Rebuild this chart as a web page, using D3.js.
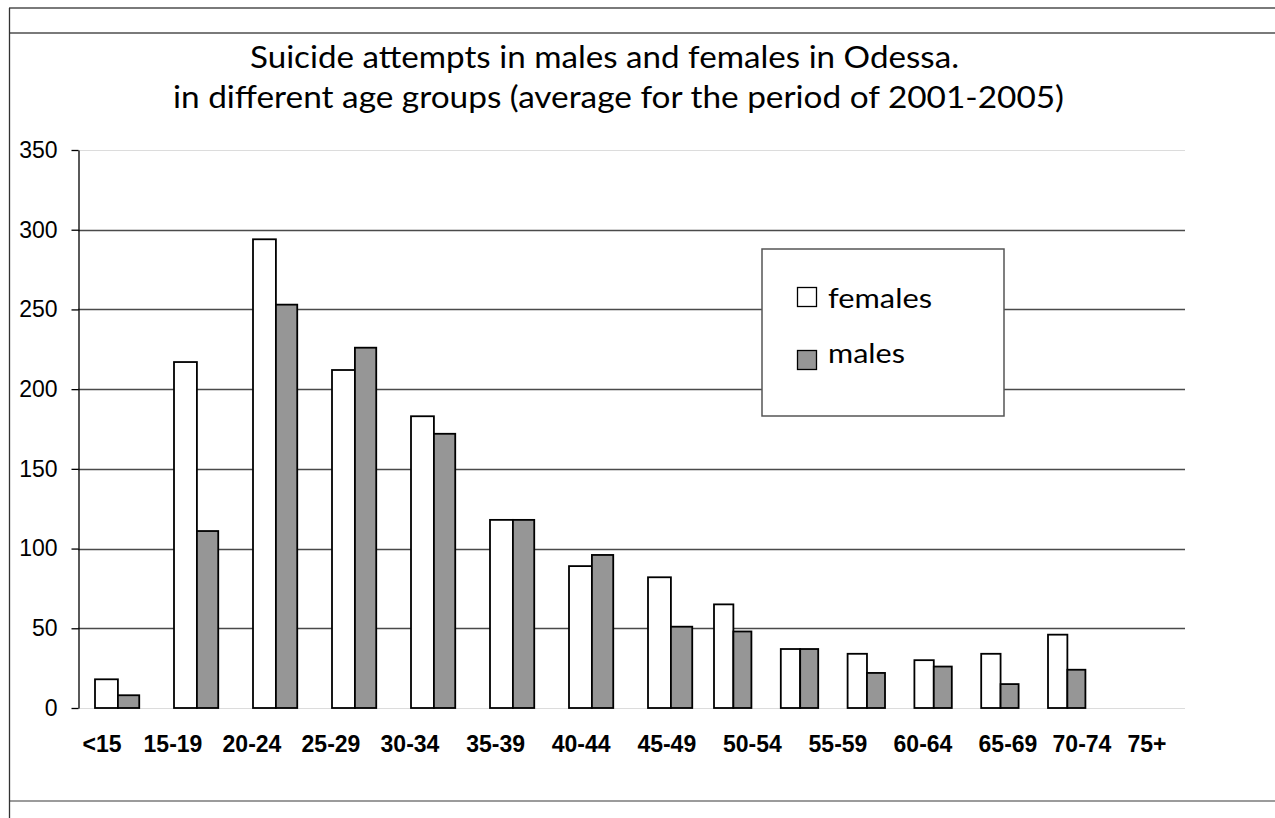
<!DOCTYPE html>
<html>
<head>
<meta charset="utf-8">
<script src="https://cdn.jsdelivr.net/npm/d3@7"></script>
<style>
  html, body { margin: 0; padding: 0; background: #fff; }
  svg { display: block; }
</style>
</head>
<body>
<svg id="chart" width="1275" height="818"></svg>
<script>
// Age groups and average yearly suicide attempts (2001-2005), Odessa
const ageGroups = ["<15", "15-19", "20-24", "25-29", "30-34", "35-39", "40-44",
                   "45-49", "50-54", "55-59", "60-64", "65-69", "70-74", "75+"];
const females = [18, 217, 294, 212, 183, 118, 89, 82, 65, 37, 34, 30, 34, 46];
const males   = [8, 111, 253, 226, 172, 118, 96, 51, 48, 37, 22, 26, 15, 24];
const yTicks  = [0, 50, 100, 150, 200, 250, 300, 350];
const titleLines = [
  "Suicide attempts in males and females in Odessa.",
  "in different age groups (average for the period of 2001-2005)"
];
const seriesNames = ["females", "males"];

const svg = d3.select("#chart");
const squareFont = "Lato, 'Open Sans', sans-serif";
const axisFont = "'Liberation Sans', Arial, sans-serif";

// Frame lines of the sheet
svg.append("line").attr("x1", 9).attr("x2", 1275).attr("y1", 8).attr("y2", 8)
  .attr("stroke", "#7a7a7a").attr("stroke-width", 2);
svg.append("line").attr("x1", 9).attr("x2", 1275).attr("y1", 33).attr("y2", 33)
  .attr("stroke", "#7a7a7a").attr("stroke-width", 2);
svg.append("line").attr("x1", 9).attr("x2", 1275).attr("y1", 801).attr("y2", 801)
  .attr("stroke", "#7a7a7a").attr("stroke-width", 1.5);
svg.append("line").attr("x1", 9.5).attr("x2", 9.5).attr("y1", 8).attr("y2", 818)
  .attr("stroke", "#333").attr("stroke-width", 1.3);

// Scales
const y = d3.scaleLinear().domain([0, 350]).range([708, 150]);
// group position (index -> left edge of the females bar)
const x = d3.scaleLinear().domain([0, 7.6, 8, 13]).range([95, 695.4, 714, 1048]);
// category label centres
const xLabel = d3.scaleLinear().domain([0, 1, 4, 9, 11, 12, 13])
  .range([102, 173, 410, 838, 1008, 1082, 1147]);

// Title
const titleX = [250, 173];
const titleW = [709, 891];
const titleY = [68, 108];
titleLines.forEach((t, i) => {
  svg.append("text")
    .attr("x", titleX[i]).attr("y", titleY[i])
    .attr("font-family", squareFont).attr("font-size", 30)
    .attr("textLength", titleW[i]).attr("lengthAdjust", "spacingAndGlyphs")
    .attr("fill", "#000")
    .text(t);
});

// Gridlines
const grid = svg.append("g");
grid.selectAll("line").data(yTicks).join("line")
  .attr("x1", 78).attr("x2", 1185)
  .attr("y1", d => Math.round(y(d)) + 0.5).attr("y2", d => Math.round(y(d)) + 0.5)
  .attr("stroke", d => (d === 0 || d === 350) ? "#dcdcdc" : "#4a4a4a")
  .attr("stroke-width", d => (d === 0 || d === 350) ? 1.2 : 1.5);

// Y axis
const yAxis = svg.append("g")
  .attr("transform", "translate(78.5,0)")
  .call(d3.axisLeft(y).tickValues(yTicks).tickSize(7).tickPadding(14).tickSizeOuter(0));
yAxis.select(".domain").attr("stroke", "#000").attr("stroke-width", 1.3);
yAxis.selectAll(".tick line").attr("stroke", "#000").attr("stroke-width", 1.3);
yAxis.selectAll(".tick text")
  .attr("font-family", axisFont).attr("font-size", 23).attr("fill", "#000");

// Bars
const bars = svg.append("g");
const idx = d3.range(ageGroups.length);
bars.selectAll("rect.f").data(idx).join("rect").attr("class", "f")
  .attr("x", i => x(i))
  .attr("width", i => x(i + 0.29) - x(i))
  .attr("y", i => y(females[i]))
  .attr("height", i => y(0) - y(females[i]))
  .attr("fill", "#fff").attr("stroke", "#000").attr("stroke-width", 1.8);
bars.selectAll("rect.m").data(idx).join("rect").attr("class", "m")
  .attr("x", i => x(i + 0.29))
  .attr("width", i => x(i + 0.56) - x(i + 0.29))
  .attr("y", i => y(males[i]))
  .attr("height", i => y(0) - y(males[i]))
  .attr("fill", "#969696").attr("stroke", "#000").attr("stroke-width", 1.8);

// Category labels
svg.append("g").selectAll("text").data(ageGroups).join("text")
  .attr("x", (d, i) => xLabel(i)).attr("y", 752)
  .attr("text-anchor", "middle")
  .attr("font-family", axisFont).attr("font-size", 23).attr("font-weight", "bold")
  .attr("fill", "#000")
  .text(d => d);

// Legend
const legend = svg.append("g");
legend.append("rect").attr("x", 762).attr("y", 249).attr("width", 242).attr("height", 167)
  .attr("fill", "#fff").attr("stroke", "#555").attr("stroke-width", 1.5);
const swatchFill = ["#fff", "#969696"];
const swatchY = [287, 350];
const textY = [308, 363];
const textW = [104, 77];
seriesNames.forEach((name, i) => {
  legend.append("rect").attr("x", 797.5).attr("y", swatchY[i] + 0.5)
    .attr("width", 19).attr("height", 19)
    .attr("fill", swatchFill[i]).attr("stroke", "#000").attr("stroke-width", 1.3);
  legend.append("text").attr("x", 828).attr("y", textY[i])
    .attr("font-family", squareFont).attr("font-size", 27)
    .attr("textLength", textW[i]).attr("lengthAdjust", "spacingAndGlyphs")
    .attr("fill", "#000").text(name);
});
</script>
</body>
</html>
